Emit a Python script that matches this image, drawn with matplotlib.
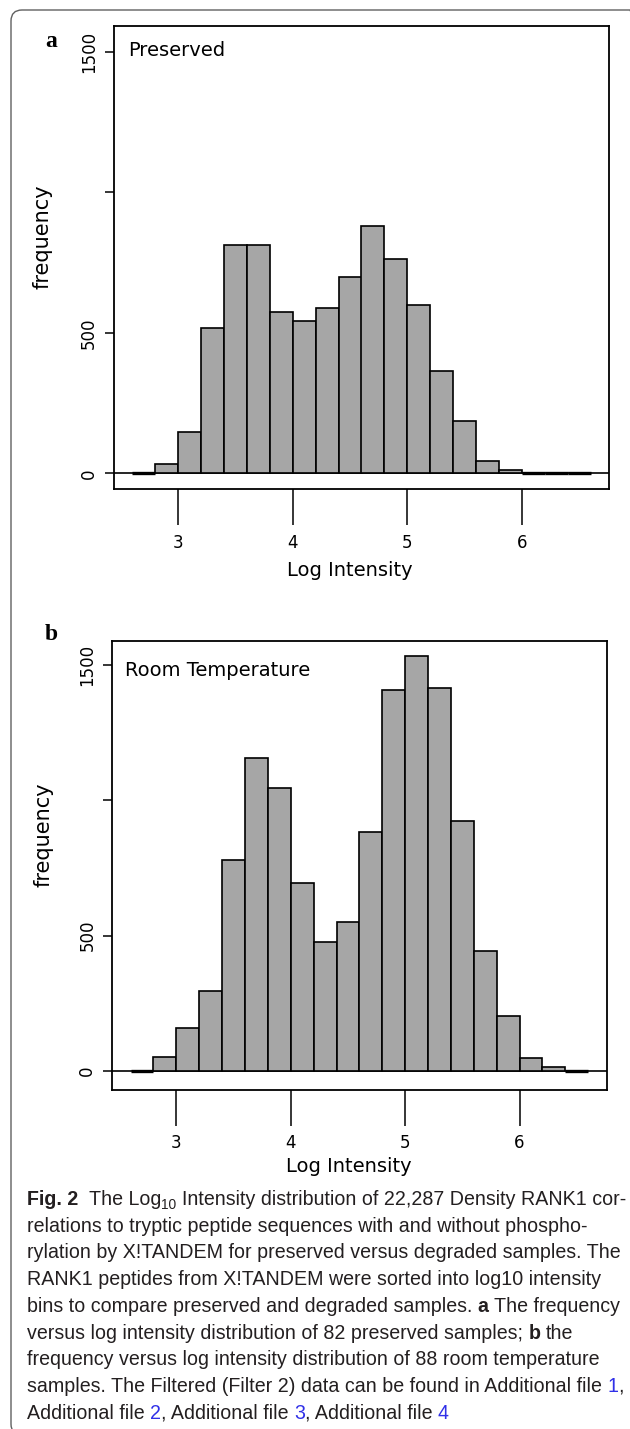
import matplotlib
matplotlib.use('Agg')
from matplotlib import pyplot as plt
from matplotlib import font_manager
from matplotlib.patches import FancyBboxPatch
from matplotlib.transforms import IdentityTransform

plt.rcParams['font.family'] = ['DejaVu Sans']

# histogram bins (left edge, width 0.2) and counts
bin_left = [2.6, 2.8, 3.0, 3.2, 3.4, 3.6, 3.8, 4.0, 4.2, 4.4,
            4.6, 4.8, 5.0, 5.2, 5.4, 5.6, 5.8, 6.0, 6.2, 6.4]
bin_width = 0.2
preserved = [0, 32, 148, 518, 813, 813, 574, 543, 587, 700,
             881, 763, 600, 363, 187, 44, 11, 0, 0, 0]
room_temp = [0, 50, 157, 294, 779, 1156, 1046, 695, 475, 551,
             884, 1407, 1533, 1415, 923, 442, 202, 47, 15, 0]

x_ticks = [3, 4, 5, 6]
y_ticks = [0, 500, 1000, 1500]
y_tick_labels = ['0', '500', '', '1500']

W, H = 630, 1429
fig = plt.figure(figsize=(W / 100, H / 100), dpi=100)


def px_box(l, t, r, b):
    return [l / W, 1 - b / H, (r - l) / W, (b - t) / H]


def fx(x):
    return x / W


def fy(y):
    return 1 - y / H


def draw_hist(box, counts, label, ylim, label_pos):
    ax = fig.add_axes(px_box(*box))
    # empty bins show up as a heavier line on the baseline
    widths = [2.4 if c == 0 else 1.2 for c in counts]
    ax.bar(bin_left, counts, width=bin_width, align='edge', color='#a6a6a6',
           edgecolor='black', linewidth=widths, zorder=2)
    ax.axhline(0, color='black', lw=1.2, zorder=1)
    ax.set_xlim(2.44, 6.76)
    ax.set_ylim(*ylim)
    ax.set_xticks(x_ticks)
    ax.set_yticks(y_ticks)
    ax.set_yticklabels(y_tick_labels, rotation=90, va='center')
    ax.tick_params(axis='x', length=26, width=1.1, pad=6, labelsize=12)
    ax.tick_params(axis='y', length=6.5, width=1.1, pad=5, labelsize=12)
    for s in ax.spines.values():
        s.set_linewidth(1.3)
    ax.text(label_pos[0], label_pos[1], label, transform=ax.transAxes,
            fontsize=14, va='baseline', ha='left')
    return ax


# panel a
draw_hist((114, 26, 609, 489.3), preserved, 'Preserved', (-57, 1592), (0.028, 0.935))
fig.text(fx(45), fy(47), 'a', family='Liberation Serif', weight='bold', fontsize=17, va='baseline')
fig.text(fx(43), fy(237), 'frequency', rotation=90, fontsize=15, ha='center', va='center')
fig.text(fx(350), fy(576), 'Log Intensity', fontsize=14, ha='center', va='baseline')

# panel b
draw_hist((112.3, 640.7, 606.5, 1090), room_temp, 'Room Temperature', (-71, 1590), (0.026, 0.921))
fig.text(fx(45), fy(640), 'b', family='Liberation Serif', weight='bold', fontsize=17, va='baseline')
fig.text(fx(44), fy(835), 'frequency', rotation=90, fontsize=15, ha='center', va='center')
fig.text(fx(349), fy(1172), 'Log Intensity', fontsize=14, ha='center', va='baseline')

# rounded frame around the whole figure (right edge runs off the image)
frame = FancyBboxPatch((11, -6), 630, 1425, boxstyle='round,pad=0,rounding_size=11',
                       transform=IdentityTransform(), fill=False,
                       edgecolor='#606060', linewidth=1.0)
fig.add_artist(frame)

# caption
names = {f.name for f in font_manager.fontManager.ttflist}
cap_font = 'Liberation Sans Narrow' if 'Liberation Sans Narrow' in names else 'Liberation Sans'
renderer = fig.canvas.get_renderer()


def text_width(s, **kw):
    t = fig.text(0, 0, '|' + s + '|', **kw)
    w = t.get_window_extent(renderer).width
    t.remove()
    t = fig.text(0, 0, '||', **kw)
    w -= t.get_window_extent(renderer).width
    t.remove()
    return w


caption_lines = [
    [('Fig. 2', 'b'), ('  The Log', ''), ('10', 'sub'),
     (' Intensity distribution of 22,287 Density RANK1 cor-', '')],
    [('relations to tryptic peptide sequences with and without phospho-', '')],
    [('rylation by X!TANDEM for preserved versus degraded samples. The', '')],
    [('RANK1 peptides from X!TANDEM were sorted into log10 intensity', '')],
    [('bins to compare preserved and degraded samples. ', ''), ('a', 'b'),
     (' The frequency', '')],
    [('versus log intensity distribution of 82 preserved samples; ', ''), ('b', 'b'),
     (' the', '')],
    [('frequency versus log intensity distribution of 88 room temperature', '')],
    [('samples. The Filtered (Filter 2) data can be found in Additional file ', ''),
     ('1', 'link'), (',', '')],
    [('Additional file ', ''), ('2', 'link'), (', Additional file ', ''), ('3', 'link'),
     (', Additional file ', ''), ('4', 'link')],
]

cap_size = 10 * 560 / text_width(caption_lines[1][0][0], family=cap_font, size=10)

y = 1205
for runs in caption_lines:
    x = 27
    for s, style in runs:
        kw = dict(family=cap_font, size=cap_size, color='#231f20')
        dy = 0
        if style == 'b':
            kw['weight'] = 'bold'
        elif style == 'sub':
            kw['size'] = cap_size * 0.7
            dy = cap_size * 100 / 72 * 0.22
        elif style == 'link':
            kw['color'] = '#3030e8'
        lead = len(s) - len(s.lstrip(' '))
        x0 = x + (text_width(' ' * lead, **kw) if lead else 0)
        fig.text(fx(x0), fy(y + dy), s.strip(' '), va='baseline', ha='left', **kw)
        x += text_width(s, **kw)
    y += 26.7

fig.savefig('out.png', dpi=100)
